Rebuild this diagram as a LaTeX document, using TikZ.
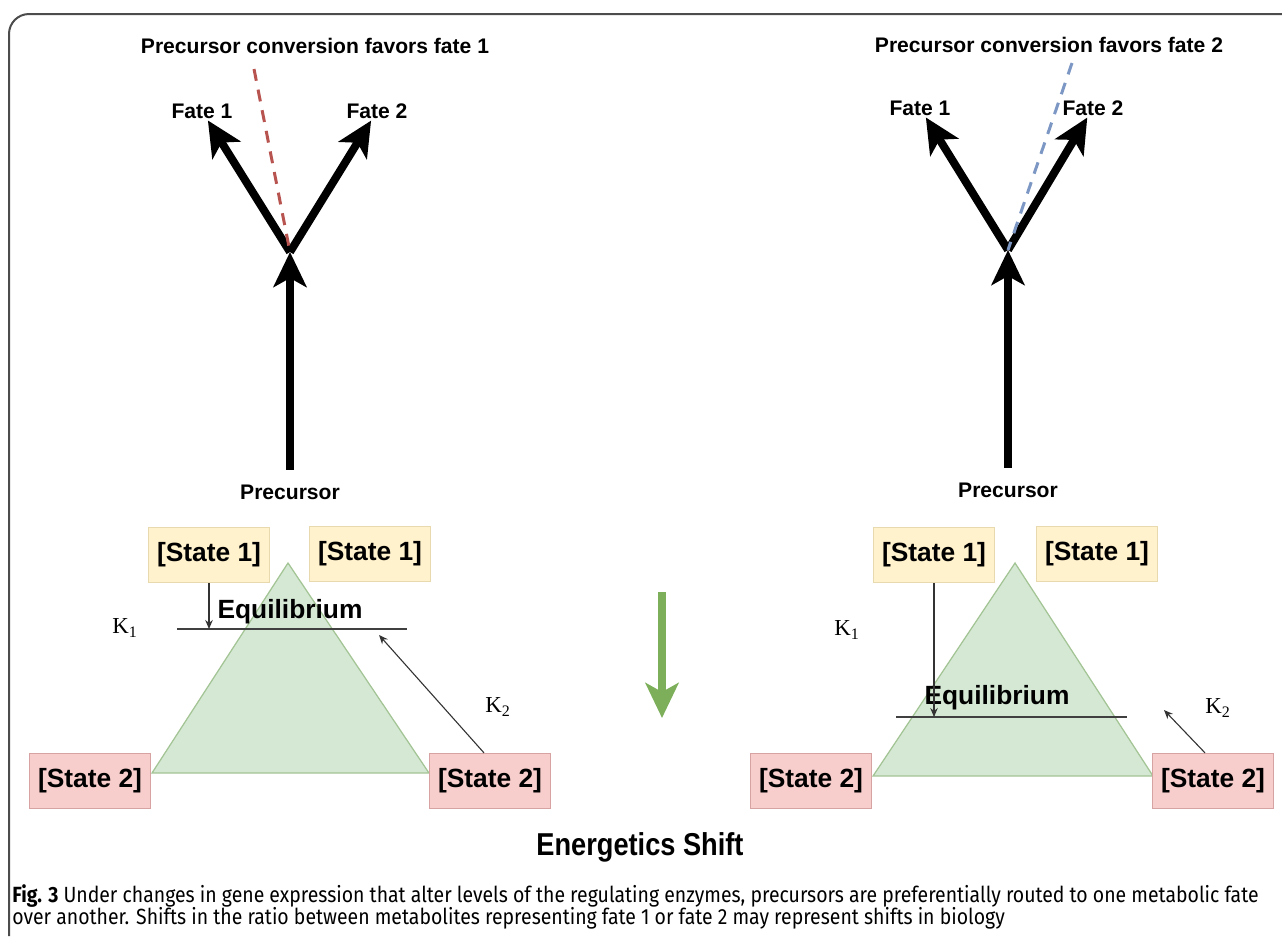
\documentclass[tikz,border=0pt]{standalone}
\usepackage{fontspec}
\setmainfont{Liberation Sans}
\newfontfamily\kfont{Liberation Serif}
\newfontfamily\shiftfont[FakeStretch=0.86]{Liberation Sans}
\newfontfamily\capfont[FakeStretch=0.885]{Fira Sans}
\usetikzlibrary{arrows.meta,positioning,calc}

\definecolor{boxyel}{HTML}{FFF2CC}
\definecolor{boxyeld}{HTML}{E8D9AE}
\definecolor{boxred}{HTML}{F8CECC}
\definecolor{boxredd}{HTML}{D6A2A2}
\definecolor{trifill}{HTML}{D5E8D4}
\definecolor{triline}{HTML}{A3C494}
\definecolor{dashred}{HTML}{B85450}
\definecolor{dashblue}{HTML}{7C97C4}
\definecolor{shiftgreen}{HTML}{7DAF5A}

\begin{document}
\begin{tikzpicture}[x=0.2mm, y=-0.2mm,
    lbl/.style={font=\bfseries\fontsize{12}{14}\selectfont, inner sep=1pt},
    bigarrow/.style={line width=1.6mm, -{Stealth[length=7mm, width=6.6mm, inset=1.8mm]}},
    thinarrow/.style={line width=0.22mm, draw=black!80, -{Stealth[length=1.8mm, width=1.5mm]}},
    statebox/.style={draw, line width=0.25mm, minimum width=24.2mm, minimum height=11mm, inner sep=0pt, font=\bfseries\fontsize{15}{18}\selectfont},
    stateone/.style={statebox, fill=boxyel, draw=boxyeld},
    statetwo/.style={statebox, fill=boxred, draw=boxredd},
    eqlbl/.style={font=\bfseries\fontsize{15}{18}\selectfont, inner sep=0pt},
    klbl/.style={font=\kfont\fontsize{13}{15}\selectfont, inner sep=0pt},
    eqline/.style={line width=0.25mm, draw=black!75},
    tri/.style={fill=trifill, draw=triline, line width=0.25mm},
    fatedash/.style={dash pattern=on 2.4mm off 1.8mm, line width=0.6mm},
    capnode/.style={font=\capfont\fontsize{12.5}{14}\selectfont, inner sep=0pt, anchor=base west}
  ]
  \useasboundingbox (0,0) rectangle (1282,936);
  \draw[line width=0.4mm, black!70, rounded corners=4mm] (9,936) -- (9,14) -- (1282,14);

  \node[lbl] (ttlA) at (315,46) {Precursor conversion favors fate 1};
  \node[lbl] (fateA1) at (202,111) {Fate 1};
  \node[lbl] (fateA2) at (377,111) {Fate 2};
  \node[lbl] (precA) at (290,492) {Precursor};
  \coordinate (joinA) at (290,252);
  \coordinate (dashA) at (254,69);

  \draw[bigarrow] ([yshift=2.6mm]precA.north) -- (joinA);
  \draw[bigarrow] (joinA) -- (fateA1);
  \draw[bigarrow] (joinA) -- (fateA2);
  \draw[fatedash, dashred] (dashA) -- (joinA);

  \draw[tri] (288,563) -- (429,773) -- (152,773) -- cycle;
  \node[stateone] (oneA1) at (209,555) {[State 1]};
  \node[stateone] (oneA2) at (370,554) {[State 1]};
  \node[statetwo] (twoA1) at (90,781) {[State 2]};
  \node[statetwo] (twoA2) at (490,781) {[State 2]};

  \coordinate (eqA1) at (177,629);
  \coordinate (eqA2) at (407,629);
  \coordinate (tipA2) at (379,635);
  \draw[eqline] (eqA1) -- (eqA2);
  \node[eqlbl] (eqA) at (290,612) {Equilibrium};
  \node[klbl] (kA1) at (125,628) {K\textsubscript{1}};
  \node[klbl] (kA2) at (498,707) {K\textsubscript{2}};
  \draw[thinarrow] (oneA1.south) -- (oneA1.south |- eqA1);
  \draw[thinarrow] ([xshift=-1.2mm]twoA2.north) -- (tipA2);

  \node[lbl] (ttlB) at (1049,45) {Precursor conversion favors fate 2};
  \node[lbl] (fateB1) at (920,108) {Fate 1};
  \node[lbl] (fateB2) at (1093,108) {Fate 2};
  \node[lbl] (precB) at (1008,490) {Precursor};
  \coordinate (joinB) at (1008,250);
  \coordinate (dashB) at (1072,63);

  \draw[bigarrow] ([yshift=2.6mm]precB.north) -- (joinB);
  \draw[bigarrow] (joinB) -- (fateB1);
  \draw[bigarrow] (joinB) -- (fateB2);
  \draw[fatedash, dashblue] (dashB) -- (joinB);

  \draw[tri] (1015,563) -- (1153,776) -- (873,776) -- cycle;
  \node[stateone] (oneB1) at (934,555) {[State 1]};
  \node[stateone] (oneB2) at (1097,554) {[State 1]};
  \node[statetwo] (twoB1) at (811,781) {[State 2]};
  \node[statetwo] (twoB2) at (1213,781) {[State 2]};

  \coordinate (eqB1) at (896,717);
  \coordinate (eqB2) at (1127,717);
  \coordinate (tipB2) at (1164,710);
  \draw[eqline] (eqB1) -- (eqB2);
  \node[eqlbl] (eqB) at (997,698) {Equilibrium};
  \node[klbl] (kB1) at (847,630) {K\textsubscript{1}};
  \node[klbl] (kB2) at (1218,708) {K\textsubscript{2}};
  \draw[thinarrow] (oneB1.south) -- (oneB1.south |- eqB1);
  \draw[thinarrow] ([xshift=-1.6mm]twoB2.north) -- (tipB2);

  \coordinate (shiftTop) at (662,592);
  \coordinate (shiftEnd) at (662,718);
  \draw[bigarrow, shiftgreen] (shiftTop) -- (shiftEnd);
  \node[font=\shiftfont\bfseries\fontsize{18}{21}\selectfont] (shift) at (640,847) {Energetics Shift};

  \node[capnode] (capA) at (12,902) {{\bfseries Fig. 3} Under changes in gene expression that alter levels of the regulating enzymes, precursors are preferentially routed to one metabolic fate};
  \node[capnode] (capB) at (12,924) {over another. Shifts in the ratio between metabolites representing fate 1 or fate 2 may represent shifts in biology};
\end{tikzpicture}
\end{document}
